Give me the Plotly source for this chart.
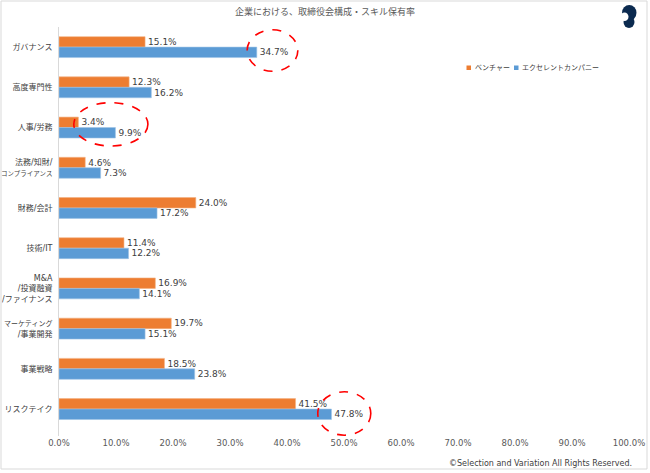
import plotly.graph_objects as go

categories = ["ガバナンス", "高度専門性", "人事/労務", "法務/知財/<br><span style=\"font-size:6.5px\">コンプライアンス</span>",
              "財務/会計", "技術/IT", "M&A<br>/投資融資<br>/ファイナンス",
              "<span style=\"font-size:7px\">マーケティング</span><br>/事業開発", "事業戦略", "リスクテイク"]
venture = [15.1, 12.3, 3.4, 4.6, 24.0, 11.4, 16.9, 19.7, 18.5, 41.5]
excellent = [34.7, 16.2, 9.9, 7.3, 17.2, 12.2, 14.1, 15.1, 23.8, 47.8]
x_ticks = [0, 10, 20, 30, 40, 50, 60, 70, 80, 90, 100]
series_names = ["ベンチャー", "エクセレントカンパニー"]
series_colors = ["#ED7D31", "#5B9BD5"]

W, H = 650, 473
ML, MR, MT, MB = 59, 21, 27, 37
PW, PH = W - ML - MR, H - MT - MB

def px(x):
    return (x - ML) / PW

def py(y):
    return (H - MB - y) / PH

FONT = "DejaVu Sans, Noto Sans CJK JP, sans-serif"
GREY = "#595959"

fig = go.Figure()
fig.add_trace(go.Bar(
    y=categories, x=venture, orientation="h", name=series_names[0],
    marker=dict(color=series_colors[0], line=dict(color="#F4B183", width=0.6)),
    text=[f"{v:.1f}%" for v in venture], textposition="outside",
    textfont=dict(size=9, color="#404040", family=FONT), cliponaxis=False,
))
fig.add_trace(go.Bar(
    y=categories, x=excellent, orientation="h", name=series_names[1],
    marker=dict(color=series_colors[1], line=dict(color="#9DC3E6", width=0.6)),
    text=[f"{v:.1f}%" for v in excellent], textposition="outside",
    textfont=dict(size=9, color="#404040", family=FONT), cliponaxis=False,
))

shapes = []
# red dashed highlight ellipses (data coords)
for (x0, x1, y0, y1) in [(33.0, 41.9, -0.43, 0.60), (2.6, 15.6, 1.38, 2.46), (45.4, 54.7, 8.57, 9.65)]:
    shapes.append(dict(type="circle", xref="x", yref="y", x0=x0, x1=x1, y0=y0, y1=y1,
                       line=dict(color="#FF0000", width=1.6, dash="dash"), layer="above"))
# outer frame
shapes.append(dict(type="rect", xref="paper", yref="paper", x0=px(1), x1=px(647), y0=py(469), y1=py(1),
                   line=dict(color="#D9D9D9", width=1)))
# logo
NAVY = "#0B2A4F"
shapes.append(dict(type="circle", xref="paper", yref="paper", x0=px(622), x1=px(636.5), y0=py(20.5), y1=py(5),
                   fillcolor=NAVY, line=dict(width=0)))
shapes.append(dict(type="circle", xref="paper", yref="paper", x0=px(623.5), x1=px(634.5), y0=py(28), y1=py(16),
                   fillcolor=NAVY, line=dict(width=0)))
shapes.append(dict(type="circle", xref="paper", yref="paper", x0=px(620.5), x1=px(628.5), y0=py(21), y1=py(12.5),
                   fillcolor="white", line=dict(width=0)))

annotations = [dict(text="©Selection and Variation All Rights Reserved.", xref="paper", yref="paper",
                    x=px(634), y=py(463), xanchor="right", yanchor="middle", showarrow=False,
                    font=dict(size=8, color="#404040", family=FONT))]

# legend (manual, to match compact layout)
legend_sq_x = [466.5, 514]
for name, color, sx in zip(series_names, series_colors, legend_sq_x):
    shapes.append(dict(type="rect", xref="paper", yref="paper", x0=px(sx), x1=px(sx + 4.5),
                       y0=py(70), y1=py(65.5), fillcolor=color, line=dict(width=0)))
    annotations.append(dict(text=name, xref="paper", yref="paper", x=px(sx + 6), y=py(68),
                            xanchor="left", yanchor="middle", showarrow=False,
                            font=dict(size=7, color="#404040", family=FONT)))

fig.update_layout(
    width=W, height=H,
    margin=dict(l=ML, r=MR, t=MT, b=MB, autoexpand=False),
    paper_bgcolor="white", plot_bgcolor="white",
    barmode="group", bargap=0.48, bargroupgap=0.0,
    font=dict(family=FONT, color=GREY),
    title=dict(text="企業における、取締役会構成・スキル保有率", x=0.5, xanchor="center", y=1 - 12 / H, yanchor="middle",
               font=dict(size=9, color=GREY, family=FONT)),
    xaxis=dict(range=[0, 100], tickvals=x_ticks, ticktext=[f"{v:.1f}%" for v in x_ticks],
               showgrid=False, zeroline=False, showline=False, ticks="",
               tickfont=dict(size=8.5, color=GREY, family=FONT), automargin=False, fixedrange=True),
    yaxis=dict(autorange="reversed", showgrid=False, showline=True, linecolor="#D9D9D9", linewidth=1,
               ticks="", tickfont=dict(size=8, color="#404040", family=FONT), automargin=False,
               ticklabelstandoff=4),
    showlegend=False,
    shapes=shapes,
    annotations=annotations,
)

fig.write_html("out.html")
